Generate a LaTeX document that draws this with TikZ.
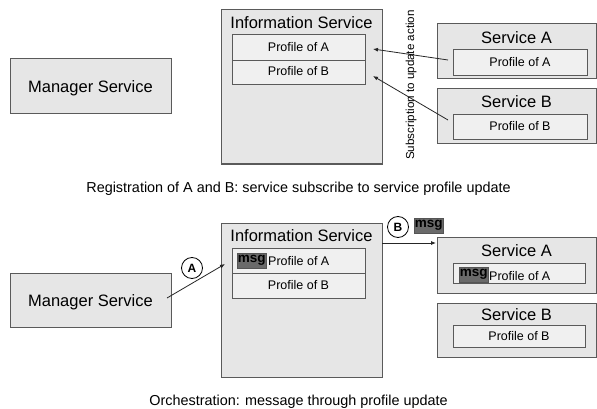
\documentclass[tikz,border=0pt]{standalone}
\usepackage{fontspec}
\setmainfont{Liberation Sans}
\usetikzlibrary{arrows.meta}
\definecolor{boxfill}{HTML}{E6E6E6}
\definecolor{innerfill}{HTML}{F0F0F0}
\definecolor{edgec}{HTML}{5A5A5A}
\definecolor{msgfill}{HTML}{6A6A6A}
\begin{document}
\begin{tikzpicture}[x=1pt,y=-1pt,
 outer/.style={draw=edgec, fill=boxfill, line width=1pt, anchor=north west, inner sep=0, outer sep=0},
 inner/.style={draw=edgec, fill=innerfill, line width=0.9pt, anchor=north west, inner sep=0, outer sep=0},
 title/.style={font=\fontsize{16.5}{18}\selectfont, inner sep=0, anchor=base},
 prof/.style={font=\fontsize{12.5}{14}\selectfont, inner sep=0, anchor=base},
 captext/.style={font=\fontsize{14.4}{16}\selectfont, inner sep=0, anchor=base},
 msgbox/.style={fill=msgfill, draw=msgfill!80!black, line width=0.5pt, font=\bfseries\fontsize{13.5}{14}\selectfont, inner sep=0, anchor=north west, minimum width=29pt, minimum height=15pt},
 badge/.style={circle, draw=black, line width=0.8pt, fill=white, minimum size=21pt, inner sep=0, font=\bfseries\fontsize{12}{14}\selectfont},
 conn/.style={draw=black!85, line width=0.8pt, -{Latex[length=5pt,width=4pt]}}]
\fill[white] (0,0) rectangle (597,409);
\useasboundingbox (0,0) rectangle (597,409);

% ---------- top part ----------
\node[outer, minimum width=161pt, minimum height=55pt] (mgr1) at (10,59) {};
\node[title] (mgr1t) at (90.5,92.5) {Manager Service};

\node[outer, minimum width=161pt, minimum height=154pt] (info1) at (221,10) {};
\node[title] (info1t) at (301.5,29) {Information Service};
\node[inner, minimum width=133pt, minimum height=26pt] (ipa1) at (232,34) {};
\node[prof] (ipa1t) at (298.5,52) {Profile of A};
\node[inner, minimum width=133pt, minimum height=24pt] (ipb1) at (232,60) {};
\node[prof] (ipb1t) at (298.5,76) {Profile of B};

\node[outer, minimum width=159pt, minimum height=55pt] (sa1) at (437,24) {};
\node[title] (sa1t) at (516.5,43.5) {Service A};
\node[inner, minimum width=134pt, minimum height=26pt] (spa1) at (453,49) {};
\node[prof] (spa1t) at (520,67) {Profile of A};

\node[outer, minimum width=159pt, minimum height=55pt] (sb1) at (437,89) {};
\node[title] (sb1t) at (516.5,107.5) {Service B};
\node[inner, minimum width=134pt, minimum height=25pt] (spb1) at (453,114) {};
\node[prof] (spb1t) at (520,131) {Profile of B};

\coordinate (a1s) at (448,60);
\coordinate (a1e) at (373,49);
\coordinate (b1s) at (448,120);
\coordinate (b1e) at (373,76);
\draw[conn] (a1s) -- (a1e);
\draw[conn] (b1s) -- (b1e);
\node[font=\fontsize{11.6}{13}\selectfont, inner sep=0, rotate=90, anchor=base] (subs) at (414,85) {Subscription to update action};

\node[captext] (cap1) at (298.5,192.5) {Registration of A and B: service subscribe to service profile update};

% ---------- bottom part ----------
\node[outer, minimum width=161pt, minimum height=54pt] (mgr2) at (10,273) {};
\node[title] (mgr2t) at (90.5,306) {Manager Service};

\node[outer, minimum width=161pt, minimum height=154pt] (info2) at (221,223) {};
\node[title] (info2t) at (301.5,241.5) {Information Service};
\node[inner, minimum width=133pt, minimum height=25pt] (ipa2) at (232,248) {};
\node[msgbox] (imsg) at (237,253) {msg};
\node[prof, anchor=base west] (ipa2t) at (268,265) {Profile of A};
\node[inner, minimum width=133pt, minimum height=25pt] (ipb2) at (232,273) {};
\node[prof] (ipb2t) at (298.5,289.5) {Profile of B};

\node[outer, minimum width=159pt, minimum height=56pt] (sa2) at (437,237) {};
\node[title] (sa2t) at (516.5,256.7) {Service A};
\node[inner, minimum width=132pt, minimum height=20pt] (spa2) at (453,263) {};
\node[msgbox] (smsg) at (459,267) {msg};
\node[prof, anchor=base west] (spa2t) at (489,280) {Profile of A};

\node[outer, minimum width=159pt, minimum height=54pt] (sb2) at (437,303) {};
\node[title] (sb2t) at (516.5,320.7) {Service B};
\node[inner, minimum width=132pt, minimum height=22pt] (spb2) at (453,325) {};
\node[prof] (spb2t) at (519,340) {Profile of B};

\coordinate (a2s) at (167,298);
\coordinate (a2e) at (225,264);
\draw[conn] (a2s) -- (a2e);
\node[badge] (bA) at (192,268) {A};

\coordinate (b2s) at (382,243);
\coordinate (b2e) at (436,243);
\draw[conn] (b2s) -- (b2e);
\node[badge] (bB) at (398,227) {B};
\node[msgbox] (fmsg) at (414,218) {msg};

\node[captext] (cap2) at (298.5,405) {Orchestration: message through profile update};
\end{tikzpicture}
\end{document}
